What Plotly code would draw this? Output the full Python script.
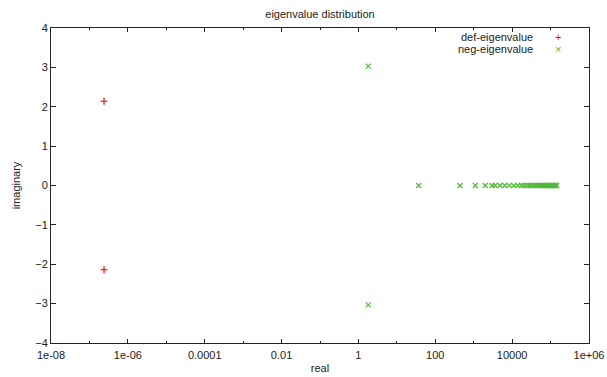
import plotly.graph_objects as go

# ---- data ----
def_real = [2.4e-7, 2.4e-7]
def_imag = [2.14, -2.14]

neg_real = [1.8, 1.8, 37, 440, 1100, 2000, 3000, 3600, 4800, 6400, 8400, 11000, 14000,
            17300, 20400, 23900, 27600, 31500, 35700, 40200, 44900, 50000, 55200,
            60800, 66600, 72600, 79000, 85600, 92400, 99500, 107000, 114600,
            122500, 130700, 139100, 144400]
neg_imag = [3.03, -3.03] + [0.0] * 34

x_tickvals = [1e-8, 1e-6, 1e-4, 1e-2, 1, 100, 1e4, 1e6]
x_ticktext = ["1e-08", "1e-06", "0.0001", "0.01", "1", "100", "10000", "1e+06"]
x_minorvals = [1e-7, 1e-5, 1e-3, 1e-1, 10, 1000, 1e5]
y_tickvals = [-4, -3, -2, -1, 0, 1, 2, 3, 4]

red = "#ff0000"
green = "#55b83c"
font = "Liberation Sans, Arial, sans-serif"

fig = go.Figure()
fig.add_trace(go.Scatter(x=def_real, y=def_imag, mode="markers", name="def-eigenvalue",
                         marker=dict(symbol="cross-thin", size=5, line=dict(color=red, width=1.2)),
                         showlegend=False))
fig.add_trace(go.Scatter(x=neg_real, y=neg_imag, mode="markers", name="neg-eigenvalue",
                         marker=dict(symbol="x-thin", size=5, line=dict(color=green, width=1.2)),
                         showlegend=False))

axis_common = dict(showgrid=False, zeroline=False, showline=True, linecolor="#222",
                   linewidth=1, mirror="allticks", ticks="inside", tickcolor="#222",
                   automargin=False,
                   tickfont=dict(family=font, size=11, color="#222"))

fig.update_xaxes(type="log", range=[-8, 6], tickvals=x_tickvals, ticktext=x_ticktext,
                 ticklen=4, ticklabelstandoff=2,
                 minor=dict(tickvals=x_minorvals, ticks="inside", ticklen=2, tickcolor="#222"),
                 title=dict(text="real", font=dict(family=font, size=11, color="#222"), standoff=4),
                 **axis_common)
fig.update_yaxes(range=[-4, 4], tickvals=y_tickvals, ticklen=5,
                 title=dict(text="imaginary", font=dict(family=font, size=11, color="#222"), standoff=12),
                 **axis_common)

# gnuplot-style legend: text right-aligned, symbol to the right
legend_items = [("def-eigenvalue", "+", red), ("neg-eigenvalue", "×", green)]
for i, (label, sym, col) in enumerate(legend_items):
    yp = 37 + i * 12
    fig.add_annotation(xref="paper", yref="paper", x=(535 - 51) / 538, y=1 - (yp - 28) / 315,
                       text=label, showarrow=False, xanchor="right", yanchor="middle",
                       font=dict(family=font, size=11, color="#222"))
    fig.add_annotation(xref="paper", yref="paper", x=(558 - 51) / 538, y=1 - (yp - 28) / 315,
                       text=sym, showarrow=False, xanchor="center", yanchor="middle",
                       font=dict(family=font, size=11, color=col))

fig.update_layout(
    width=607, height=377,
    margin=dict(l=51, r=18, t=28, b=34, autoexpand=False),
    paper_bgcolor="white", plot_bgcolor="white",
    title=dict(text="eigenvalue distribution", x=320 / 607, xanchor="center", y=1 - 14 / 377,
               yanchor="middle", font=dict(family=font, size=11, color="#222")),
    font=dict(family=font, size=11, color="#222"),
)

fig.write_html("out.html", config={"displayModeBar": False},
               post_script="document.body.style.margin='0';")
